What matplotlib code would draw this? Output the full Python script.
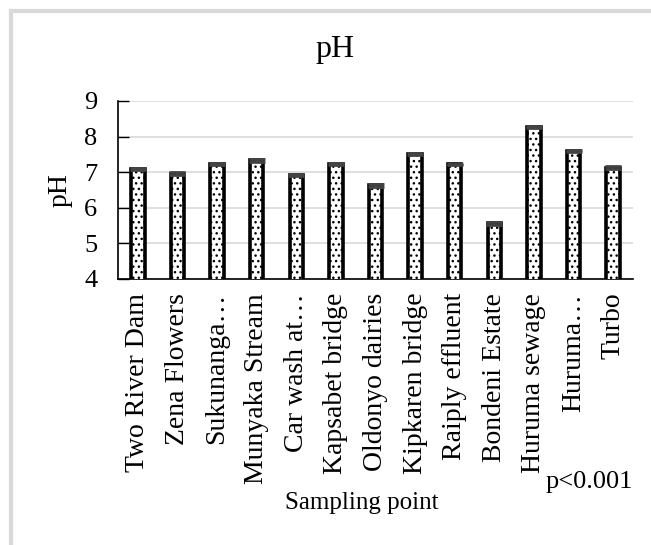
import matplotlib
matplotlib.use("Agg")
import matplotlib.pyplot as plt
from matplotlib.lines import Line2D
import numpy as np

# sampling points and mean pH
sites = ["Two River Dam", "Zena Flowers", "Sukunanga…", "Munyaka Stream",
         "Car wash at…", "Kapsabet bridge", "Oldonyo dairies", "Kipkaren bridge",
         "Raiply effluent", "Bondeni Estate", "Huruma sewage", "Huruma…", "Turbo"]
ph_mean = [7.08, 6.96, 7.22, 7.33, 6.93, 7.22, 6.63, 7.50, 7.22, 5.56, 8.27, 7.60, 7.13]
ph_err = [0.03, 0.04, 0.03, 0.03, 0.03, 0.03, 0.04, 0.03, 0.02, 0.03, 0.02, 0.03, 0.03]
yticks = [4, 5, 6, 7, 8, 9]

plt.rcParams["font.family"] = ["Liberation Serif", "DejaVu Serif"]
plt.rcParams["hatch.linewidth"] = 1.0

fig = plt.figure(figsize=(6.51, 5.45), dpi=100)
ax = fig.add_axes([0.1813, 0.4881, 0.7911, 0.3266])

x = np.arange(len(sites))
ax.bar(x, ph_mean, width=0.34, bottom=0, color="white", edgecolor="black",
       linewidth=2.6, hatch="...", zorder=3)
ax.errorbar(x, ph_mean, yerr=ph_err, fmt="none", ecolor="#444444",
            elinewidth=1.5, capsize=6, capthick=2, zorder=4)

ax.set_xlim(-0.5, len(sites) - 0.5)
ax.set_ylim(4, 9)
ax.set_yticks(yticks)
ax.set_yticklabels([str(v) for v in yticks], fontsize=19)
ax.set_xticks(x)
ax.set_xticklabels(sites, rotation=90, fontsize=20)
ax.tick_params(axis="x", length=0, pad=10)
ax.tick_params(axis="y", direction="in", length=8, width=1, pad=15)
ax.yaxis.grid(True, color="#d9d9d9", linewidth=1.2, zorder=0)
ax.set_axisbelow(True)
for side in ["top", "right"]:
    ax.spines[side].set_visible(False)
ax.spines["left"].set_linewidth(1.2)
ax.spines["bottom"].set_linewidth(1.2)

ax.set_ylabel("pH", fontsize=20, labelpad=8)
fig.text(0.515, 0.91, "pH", ha="center", va="center", fontsize=23)
fig.text(0.555, 0.077, "Sampling point", ha="center", va="center", fontsize=18)
fig.text(0.972, 0.116, "p<0.001", ha="right", va="center", fontsize=19)

# light grey frame around the figure (left and top edges visible)
fig.add_artist(Line2D([0.017, 0.017], [0, 0.98], transform=fig.transFigure,
                      color="#d9d9d9", linewidth=3))
fig.add_artist(Line2D([0.017, 1.0], [0.98, 0.98], transform=fig.transFigure,
                      color="#d9d9d9", linewidth=3))

fig.savefig("out.png", dpi=100)
